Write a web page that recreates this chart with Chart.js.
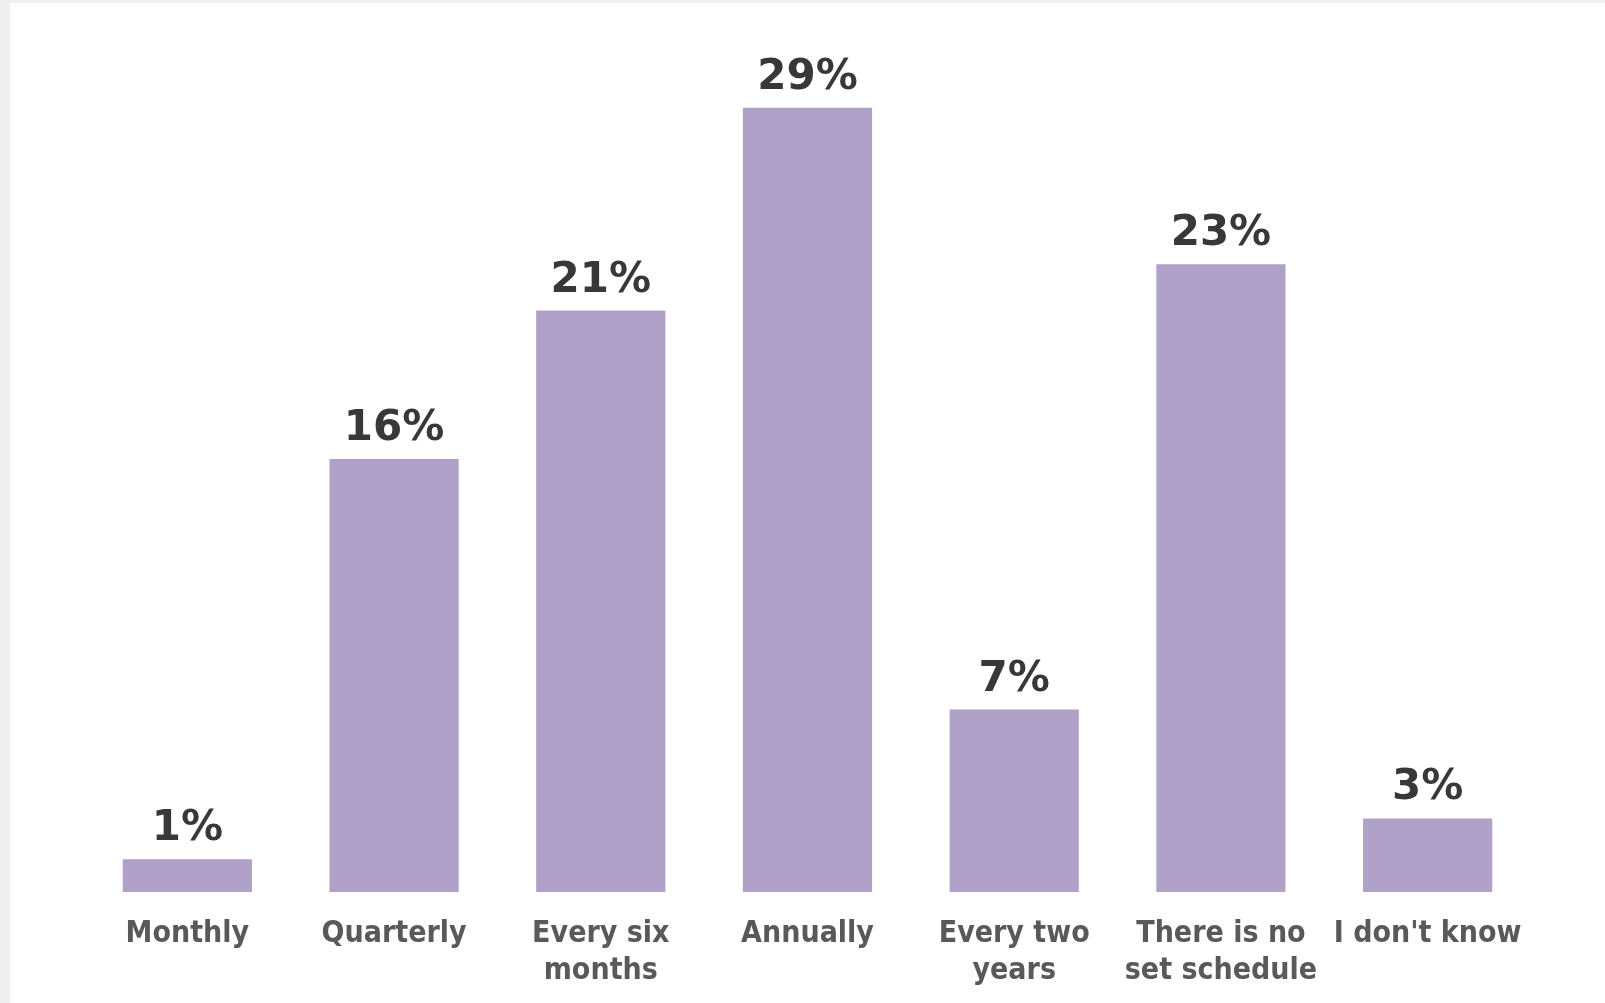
<!DOCTYPE html>
<html>
<head>
<meta charset="utf-8">
<script src="https://cdn.jsdelivr.net/npm/chart.js@4/dist/chart.umd.min.js"></script>
<style>
  html, body { margin: 0; padding: 0; background: #efefef; width: 1605px; height: 1003px; overflow: hidden; }
  #panel { position: absolute; left: 10px; top: 3px; width: 1595px; height: 1000px; background: #ffffff; overflow: hidden; }
  canvas { display: block; }
</style>
</head>
<body>
<div id="panel"><canvas id="c" width="1595" height="1025"></canvas></div>
<script>
const categories = [
  "Monthly",
  "Quarterly",
  ["Every six", "months"],
  "Annually",
  ["Every two", "years"],
  ["There is no", "set schedule"],
  "I don't know"
];
// bar heights (percent)
const values = [1.2, 15.9, 21.35, 28.8, 6.7, 23.05, 2.7];
// value labels as printed above the bars
const valueLabels = ["1%", "16%", "21%", "29%", "7%", "23%", "3%"];

const barColor = "#b0a1c8";

const valueLabelPlugin = {
  id: "valueLabels",
  afterDatasetsDraw(chart) {
    const ctx = chart.ctx;
    const meta = chart.getDatasetMeta(0);
    ctx.save();
    ctx.font = "bold 42px 'DejaVu Sans', Verdana, sans-serif";
    ctx.fillStyle = "#383838";
    ctx.textAlign = "center";
    ctx.textBaseline = "alphabetic";
    meta.data.forEach((bar, i) => {
      ctx.fillText(valueLabels[i], bar.x, bar.y - 19);
    });
    ctx.restore();
  }
};

new Chart(document.getElementById("c"), {
  type: "bar",
  data: {
    labels: categories,
    datasets: [{
      data: values,
      backgroundColor: barColor,
      borderWidth: 0,
      categoryPercentage: 1,
      barPercentage: 0.625
    }]
  },
  options: {
    responsive: false,
    animation: false,
    devicePixelRatio: 1,
    layout: { padding: { left: 74, right: 74, top: 72, bottom: 15 } },
    plugins: {
      legend: { display: false },
      tooltip: { enabled: false }
    },
    scales: {
      x: {
        grid: { display: false, drawTicks: false, tickLength: 0 },
        border: { display: false },
        ticks: {
          padding: 23,
          maxRotation: 0,
          autoSkip: false,
          color: "#595959",
          font: { family: "'DejaVu Sans Condensed', 'DejaVu Sans', sans-serif", weight: "bold", size: 30, lineHeight: 1.25 }
        }
      },
      y: {
        display: false,
        min: 0,
        max: 30
      }
    }
  },
  plugins: [valueLabelPlugin]
});
</script>
</body>
</html>
